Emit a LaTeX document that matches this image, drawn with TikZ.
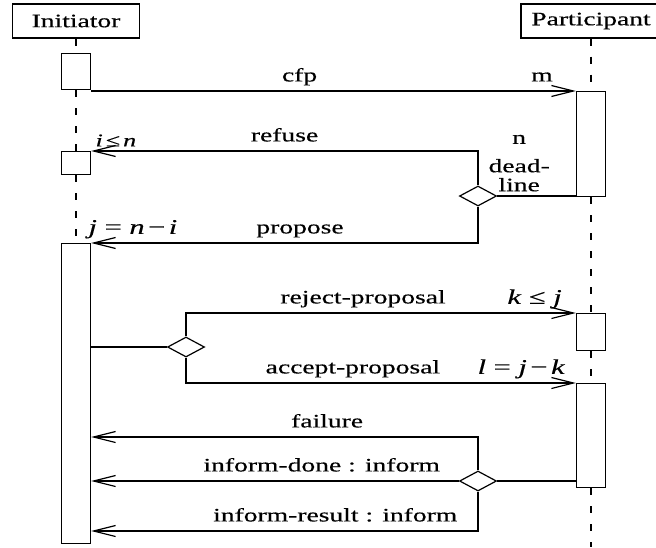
\documentclass[tikz,border=0pt]{standalone}
\usepackage{fontspec}
\setmainfont{Liberation Serif}[FakeStretch=1.45,FakeBold=0.4]
\usetikzlibrary{arrows.meta,positioning,shapes.geometric}

\begin{document}
\begin{tikzpicture}[x=0.5pt,y=-0.5pt,line width=0.6pt,
  font=\fontsize{9.5}{9.5}\selectfont,
  role/.style={draw,minimum height=17pt,inner sep=2pt},
  act/.style={draw,fill=white,minimum width=14.5pt,anchor=north,inner sep=0pt},
  life/.style={dash pattern=on 3.5pt off 5.5pt},
  msg/.style={-{Straight Barb[length=11pt,width=5.5pt]}},
  choice/.style={draw,diamond,fill=white,minimum width=18.5pt,minimum height=10pt,inner sep=0pt},
  lbl/.style={above,inner sep=2pt,text height=0.7em,text depth=0.25em},
  cond/.style={above,inner sep=2pt,font=\fontsize{10.5}{10.5}\selectfont}]
\useasboundingbox (0,0) rectangle (656,547);
\clip (0,0) rectangle (656,547);

% roles
\node[role,minimum width=63.5pt] (init) at (76,21) {Initiator};
\node[role,minimum width=70pt] (part) at (591,21) {Participant};
\coordinate (pend) at (591,547);

% activation bars
\node[act,minimum height=18pt] (a1) at (76,53) {};
\node[act,minimum height=11.5pt] (a2) at (76,151) {};
\node[act,minimum height=150pt] (a3) at (76,243) {};
\node[act,minimum height=52.5pt] (b1) at (591,91) {};
\node[act,minimum height=18.5pt] (b2) at (591,313) {};
\node[act,minimum height=52pt] (b3) at (591,383) {};

% lifelines
\draw[life] (init.south) -- (a1.north);
\draw[life] (a1.south) -- (a2.north);
\draw[life] (a2.south) -- (a3.north);
\draw[life] (part.south) -- (b1.north);
\draw[life] (b1.south) -- (b2.north);
\draw[life] (b2.south) -- (b3.north);
\draw[life] (b3.south) -- (pend);

% decisions
\node[choice] (d1) at (478,196) {};
\node[choice] (d2) at (186,347) {};
\node[choice] (d3) at (478,481) {};
\coordinate (fail) at (478,437);
\coordinate (res) at (478,531);

% messages
\draw[msg] (a1.east |- b1.north) -- node[lbl,pos=0.43]{cfp} node[lbl,pos=0.93]{m} (b1.north west);
\draw (d1.east) -- node[above,pos=0.28,align=center,inner sep=2pt] (dl) {dead-\\line} (d1.east -| b1.west);
\node[above=3pt of dl,inner sep=2pt] (nlbl) {n};
\draw[msg] (d1.north) |- node[lbl,pos=0.75]{refuse}
  node[cond,pos=0.968,font=\fontsize{9}{9}\selectfont]{\textit{i}\,≤\,\textit{n}} (a2.north east);
\draw[msg] (d1.south) |- node[lbl,pos=0.73]{propose}
  node[cond,pos=0.946]{\textit{j} = \textit{n}\,−\,\textit{i}} (a3.north east);

\draw (a3.east |- d2.west) -- (d2.west);
\draw[msg] (d2.north) |- node[lbl,pos=0.727]{reject-proposal}
  node[cond,pos=0.947]{\textit{k} ≤ \textit{j}} (b2.north west);
\draw[msg] (d2.south) |- node[lbl,pos=0.714]{accept-proposal}
  node[cond,pos=0.93]{\textit{l} = \textit{j}\,−\,\textit{k}} (b3.north west);

\draw (d3.east) -- (d3.east -| b3.west);
\draw[msg] (d3.north) -- (fail) -- node[lbl,pos=0.39]{failure} (fail -| a3.east);
\draw[msg] (d3.west) -- node[lbl,pos=0.373]{inform-done : inform} (d3.west -| a3.east);
\draw[msg] (d3.south) -- (res) -- node[lbl,pos=0.369]{inform-result : inform} (res -| a3.east);
\end{tikzpicture}
\end{document}
